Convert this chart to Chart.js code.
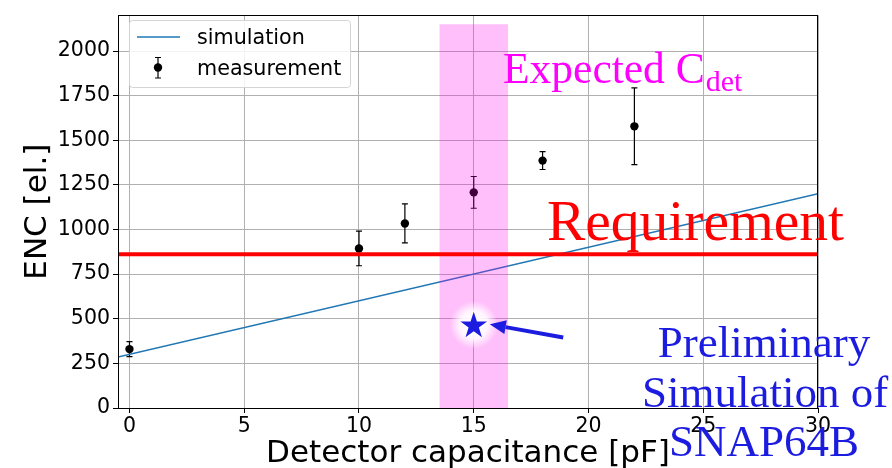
<!DOCTYPE html>
<html>
<head>
<meta charset="utf-8">
<script src="https://cdn.jsdelivr.net/npm/chart.js@4/dist/chart.umd.min.js"></script>
<style>
  html, body { margin: 0; padding: 0; background: #ffffff; }
  canvas { display: block; }
</style>
</head>
<body>
<canvas id="enc" width="892" height="468"></canvas>
<script>
// Measured ENC versus detector capacitance
const capacitance = [0, 10, 12, 15, 18, 22];
const encMeasured = [330, 894, 1034, 1208, 1386, 1578];
const encError = [42, 97, 109, 89, 50, 215];

// Simulated ENC (straight line over the plotted range)
const simCapacitance = [-0.5, 30];
const simEnc = [285, 1200];

// Requirement level
const requirementEnc = 862;

// Expected detector capacitance band
const expectedCapRange = [13.5, 16.5];
const expectedBandTop = 2150;

// Preliminary SNAP64B simulation point and the arrow pointing at it
const snapCap = 15;
const snapEnc = 466;
const arrowTail = [18.9, 395];
const arrowHead = [15.7, 469];

// Axis ticks and limits
const xTicks = [0, 5, 10, 15, 20, 25, 30];
const yTicks = [0, 250, 500, 750, 1000, 1250, 1500, 1750, 2000];
const xLimits = [-0.5, 30];
const yLimits = [0, 2200];

const SANS = '"DejaVu Sans", sans-serif';
const SERIF = '"Liberation Serif", "DejaVu Serif", serif';
const SIM_BLUE = '#1f77b4';
const NOTE_BLUE = '#1c1ce0';

const errorBars = {
  id: 'errorBars',
  beforeDatasetsDraw(chart) {
    const { ctx, scales: { x, y } } = chart;
    ctx.save();
    ctx.strokeStyle = '#000';
    ctx.lineWidth = 1.2;
    capacitance.forEach((c, i) => {
      const px = x.getPixelForValue(c);
      const top = y.getPixelForValue(encMeasured[i] + encError[i]);
      const bot = y.getPixelForValue(encMeasured[i] - encError[i]);
      ctx.beginPath();
      ctx.moveTo(px, top); ctx.lineTo(px, bot);
      ctx.moveTo(px - 3, top); ctx.lineTo(px + 3, top);
      ctx.moveTo(px - 3, bot); ctx.lineTo(px + 3, bot);
      ctx.stroke();
    });
    ctx.restore();
  }
};

function drawStar(ctx, cx, cy, R, r) {
  ctx.beginPath();
  for (let k = 0; k < 10; k++) {
    const rad = k % 2 === 0 ? R : r;
    const a = -Math.PI / 2 + k * Math.PI / 5;
    const px = cx + rad * Math.cos(a), py = cy + rad * Math.sin(a);
    if (k === 0) ctx.moveTo(px, py); else ctx.lineTo(px, py);
  }
  ctx.closePath();
}

const overlay = {
  id: 'overlay',
  afterDatasetsDraw(chart) {
    const { ctx, chartArea: a, scales: { x, y } } = chart;
    ctx.save();

    // frame
    ctx.strokeStyle = '#000';
    ctx.lineWidth = 1;
    ctx.strokeRect(Math.round(a.left) + 0.5, Math.round(a.top) + 0.5,
                   Math.round(a.right - a.left) - 1, Math.round(a.bottom - a.top));

    // star with a soft white glow
    const sx = x.getPixelForValue(snapCap), sy = y.getPixelForValue(snapEnc);
    const glow = ctx.createRadialGradient(sx, sy, 4, sx, sy, 24);
    glow.addColorStop(0, 'rgba(255,255,255,1)');
    glow.addColorStop(0.5, 'rgba(255,255,255,0.85)');
    glow.addColorStop(1, 'rgba(255,255,255,0)');
    ctx.fillStyle = glow;
    ctx.beginPath(); ctx.arc(sx, sy, 24, 0, Math.PI * 2); ctx.fill();
    ctx.fillStyle = NOTE_BLUE;
    drawStar(ctx, sx, sy + 1, 14, 5.4);
    ctx.fill();

    // arrow
    const tx = x.getPixelForValue(arrowTail[0]), ty = y.getPixelForValue(arrowTail[1]);
    const hx = x.getPixelForValue(arrowHead[0]), hy = y.getPixelForValue(arrowHead[1]);
    const ang = Math.atan2(hy - ty, hx - tx);
    const headLen = 16, headHalf = 7;
    const bx = hx - headLen * Math.cos(ang), by = hy - headLen * Math.sin(ang);
    ctx.strokeStyle = NOTE_BLUE;
    ctx.lineWidth = 4;
    ctx.beginPath(); ctx.moveTo(tx, ty); ctx.lineTo(bx, by); ctx.stroke();
    ctx.fillStyle = NOTE_BLUE;
    ctx.beginPath();
    ctx.moveTo(hx, hy);
    ctx.lineTo(bx + headHalf * Math.sin(ang), by - headHalf * Math.cos(ang));
    ctx.lineTo(bx - headHalf * Math.sin(ang), by + headHalf * Math.cos(ang));
    ctx.closePath(); ctx.fill();

    // legend
    const lx = 129, ly = 20, lw = 221, lh = 67;
    ctx.fillStyle = 'rgba(255,255,255,0.85)';
    ctx.strokeStyle = '#d4d4d4';
    ctx.lineWidth = 1;
    ctx.beginPath();
    ctx.roundRect(lx + 0.5, ly + 0.5, lw, lh, 3);
    ctx.fill(); ctx.stroke();
    ctx.strokeStyle = SIM_BLUE; ctx.lineWidth = 1.5;
    ctx.beginPath(); ctx.moveTo(137, 37); ctx.lineTo(180, 37); ctx.stroke();
    ctx.strokeStyle = '#000'; ctx.lineWidth = 1.2;
    ctx.beginPath();
    ctx.moveTo(158, 57.5); ctx.lineTo(158, 78);
    ctx.moveTo(155, 57.5); ctx.lineTo(161, 57.5);
    ctx.moveTo(155, 78); ctx.lineTo(161, 78);
    ctx.stroke();
    ctx.fillStyle = '#000';
    ctx.beginPath(); ctx.arc(158, 67.5, 4.2, 0, Math.PI * 2); ctx.fill();
    ctx.font = '20.7px ' + SANS;
    ctx.textBaseline = 'alphabetic';
    ctx.textAlign = 'left';
    ctx.fillText('simulation', 197, 44);
    ctx.fillText('measurement', 197, 75);

    ctx.restore();
  },
  afterDraw(chart) {
    const { ctx, chartArea: a } = chart;
    ctx.save();
    ctx.textBaseline = 'alphabetic';

    // axis titles
    ctx.fillStyle = '#000';
    ctx.font = '31px ' + SANS;
    ctx.textAlign = 'center';
    ctx.fillText('Detector capacitance [pF]', (a.left + a.right) / 2, 462);
    ctx.save();
    ctx.translate(46, (a.top + a.bottom) / 2);
    ctx.rotate(-Math.PI / 2);
    ctx.fillText('ENC [el.]', 0, 0);
    ctx.restore();

    // annotations
    ctx.textAlign = 'left';
    ctx.fillStyle = '#ff00ff';
    ctx.font = '43.5px ' + SERIF;
    ctx.fillText('Expected C', 503, 83);
    const w = ctx.measureText('Expected C').width;
    ctx.font = '30px ' + SERIF;
    ctx.fillText('det', 503 + w + 1, 91);

    ctx.fillStyle = '#ff0000';
    ctx.font = '57.5px ' + SERIF;
    ctx.fillText('Requirement', 547, 240);

    ctx.fillStyle = NOTE_BLUE;
    ctx.font = '45px ' + SERIF;
    ctx.textAlign = 'center';
    ctx.fillText('Preliminary', 764, 357);
    ctx.fillText('Simulation of', 765, 407);
    ctx.fillText('SNAP64B', 764, 456);
    ctx.restore();
  }
};

new Chart(document.getElementById('enc'), {
  type: 'scatter',
  data: {
    datasets: [
      {
        label: 'simulation',
        type: 'line',
        data: simCapacitance.map((c, i) => ({ x: c, y: simEnc[i] })),
        borderColor: SIM_BLUE,
        borderWidth: 1.5,
        pointRadius: 0,
        fill: false,
        order: 5
      },
      {
        label: 'measurement',
        data: capacitance.map((c, i) => ({ x: c, y: encMeasured[i] })),
        backgroundColor: '#000',
        borderColor: '#000',
        pointRadius: 4.2,
        pointBorderWidth: 0,
        order: 4
      },
      {
        label: 'expected',
        type: 'line',
        data: expectedCapRange.map(c => ({ x: c, y: expectedBandTop })),
        borderWidth: 0,
        borderColor: 'rgba(0,0,0,0)',
        backgroundColor: 'rgba(255,0,240,0.25)',
        pointRadius: 0,
        fill: 'origin',
        order: 3
      },
      {
        label: 'requirement',
        type: 'line',
        data: xLimits.map(c => ({ x: c, y: requirementEnc })),
        borderColor: '#ff0000',
        borderWidth: 4,
        borderCapStyle: 'butt',
        pointRadius: 0,
        fill: false,
        order: 2
      }
    ]
  },
  options: {
    responsive: false,
    animation: false,
    events: [],
    layout: { padding: { top: 10, right: 74, left: 0, bottom: 0 } },
    plugins: { legend: { display: false }, tooltip: { enabled: false } },
    scales: {
      x: {
        type: 'linear',
        min: xLimits[0],
        max: xLimits[1],
        afterBuildTicks: s => { s.ticks = xTicks.map(v => ({ value: v })); },
        afterFit: s => { s.height = 60; },
        grid: { color: '#b0b0b0', lineWidth: 1, tickColor: '#000', tickLength: 5, drawTicks: true },
        border: { display: false },
        ticks: { color: '#000', font: { family: SANS, size: 20.5 }, padding: 1, maxRotation: 0,
                 callback: v => String(v) }
      },
      y: {
        type: 'linear',
        min: yLimits[0],
        max: yLimits[1],
        afterBuildTicks: s => { s.ticks = yTicks.map(v => ({ value: v })); },
        afterFit: s => { s.width = 118; },
        grid: { color: '#b0b0b0', lineWidth: 1, tickColor: '#000', tickLength: 5, drawTicks: true },
        border: { display: false },
        ticks: { color: '#000', font: { family: SANS, size: 20.5 }, padding: 3,
                 callback: v => String(v) }
      }
    }
  },
  plugins: [errorBars, overlay]
});
</script>
</body>
</html>
